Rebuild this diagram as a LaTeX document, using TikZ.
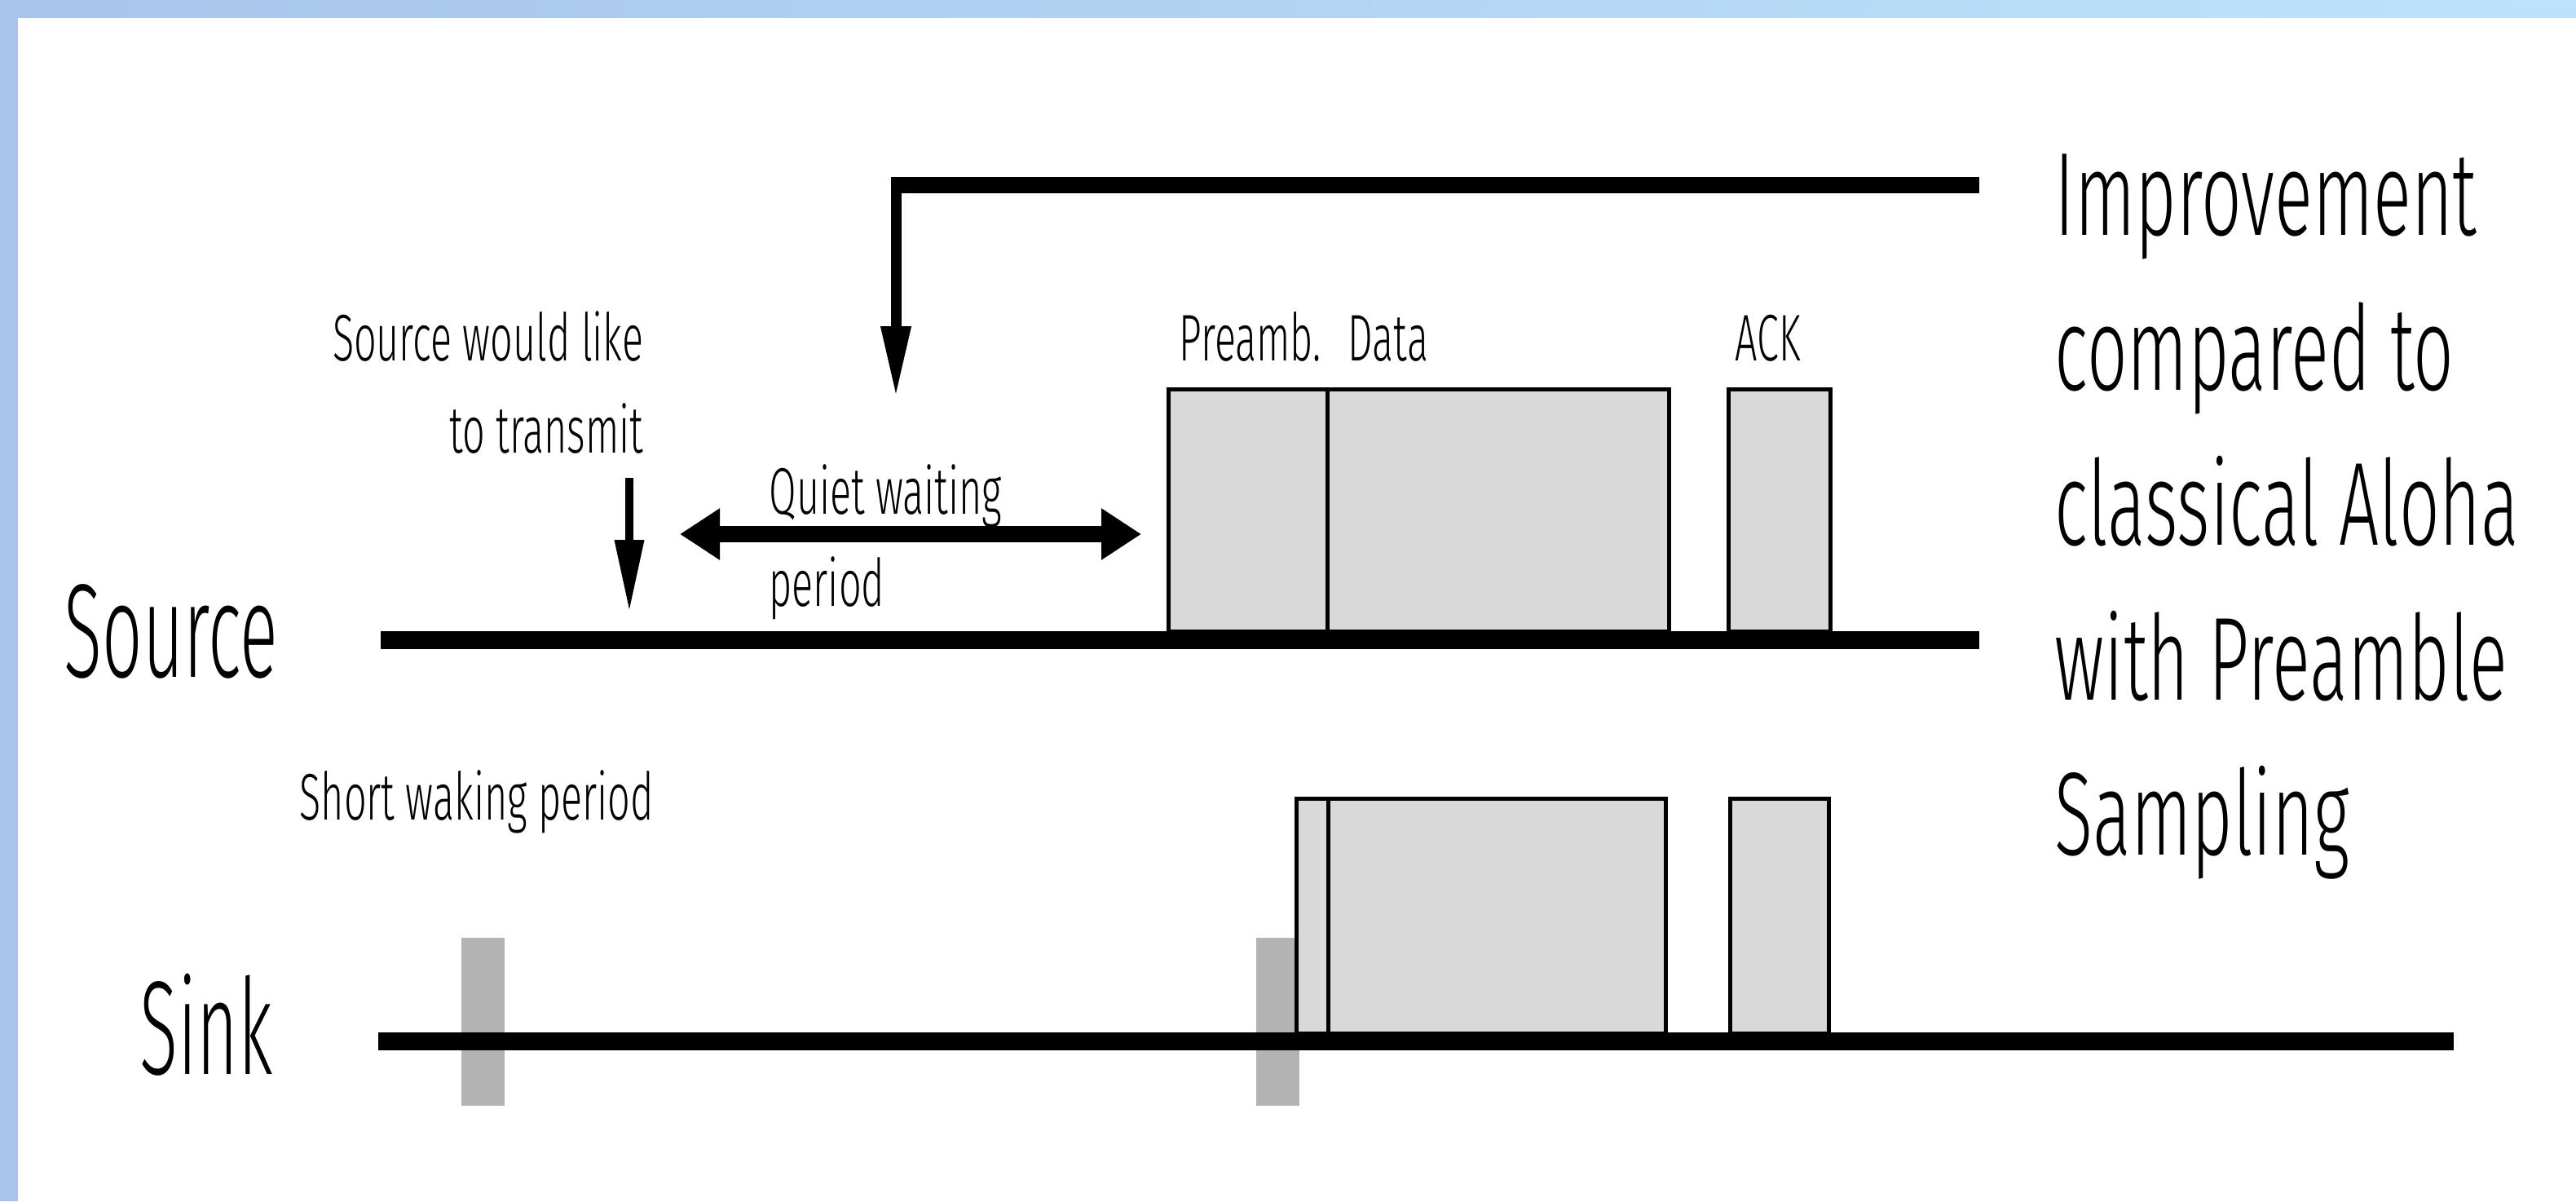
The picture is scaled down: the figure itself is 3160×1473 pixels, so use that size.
\documentclass[tikz,border=0pt]{standalone}
\usepackage{fontspec}
\setmainfont{Fira Sans Light}[FakeStretch=0.6]
\newfontfamily\lanefont{Fira Sans Light}[FakeStretch=0.53]
\usetikzlibrary{arrows.meta}
\definecolor{barblue}{HTML}{A9C4EB}
\definecolor{barsky}{HTML}{BDE3FA}
\definecolor{pktgray}{HTML}{D9D9D9}
\definecolor{wakegray}{HTML}{B3B3B3}
\tikzset{
  timeline/.style={line width=2.2mm},
  packet/.style={draw, fill=pktgray, line width=0.5mm},
  wakebar/.style={fill=wakegray},
  small/.style={inner sep=0pt, font=\fontsize{23}{31.9}\selectfont},
  big/.style={inner sep=0pt, anchor=base west, font=\lanefont\fontsize{46.6}{50}\selectfont},
  note/.style={inner sep=0pt, anchor=base west, align=left, font=\fontsize{41.3}{54}\selectfont},
  pointer/.style={-{Triangle[length=8.8mm,width=3.4mm]}}
}
\begin{document}
\begin{tikzpicture}[x=0.1mm, y=-0.1mm]
\useasboundingbox (0,0) rectangle (3160,1473);
\shade[left color=barblue, right color=barsky] (0,0) rectangle (3160,21);
\fill[barblue] (0,0) rectangle (22,1473);
\coordinate (srcA) at (467,785);
\coordinate (srcB) at (2428,785);
\coordinate (snkA) at (464,1277);
\coordinate (snkB) at (3010,1277);
\draw[packet] (1433,774) rectangle (1628,477);
\draw[packet] (1628,774) rectangle (2047,477);
\draw[packet] (2120,774) rectangle (2245,477);
\foreach \x in {566,1541}
  \fill[wakebar] (\x,1150) rectangle ++(53,206);
\draw[packet] (1590,1267) rectangle (1629,979);
\draw[packet] (1629,1267) rectangle (2043,979);
\draw[packet] (2122,1267) rectangle (2243,979);
\draw[timeline] (srcA) -- (srcB);
\draw[timeline] (snkA) -- (snkB);
\node[small, anchor=base east, align=right] (wish) at (790,555) {Source would like\\to transmit};
\node[small, anchor=base west, align=left] (quiet) at (943,743) {Quiet waiting\\period};
\node[small, anchor=base west] (preamb) at (1446,442) {Preamb.};
\node[small, anchor=base west] (data) at (1653,442) {Data};
\node[small, anchor=base west] (ack) at (2128,442) {ACK};
\node[small, anchor=base west] (wake) at (367,1005) {Short waking period};
\node[big] (src) at (78,830) {Source};
\node[big] (snk) at (171,1317) {Sink};
\node[note] (impr) at (2520,1048) {Improvement\\compared to\\classical Aloha\\with Preamble\\Sampling};
\coordinate (qwL) at (834,655);
\coordinate (qwR) at (1400,655);
\draw[line width=2mm, {Triangle[length=4.9mm,width=6mm]}-{Triangle[length=4.9mm,width=6mm]}] (qwL) -- (qwR);
\coordinate (wishA) at (772,586);
\coordinate (wishB) at (772,750);
\draw[line width=1mm, pointer] (wishA) -- (wishB);
\coordinate (imprA) at (2428,227);
\coordinate (imprB) at (1093,227);
\coordinate (imprC) at (1099,217);
\coordinate (imprD) at (1099,488);
\draw[line width=2mm] (imprA) -- (imprB);
\draw[line width=1.3mm, pointer] (imprC) -- (imprD);
\end{tikzpicture}
\end{document}
